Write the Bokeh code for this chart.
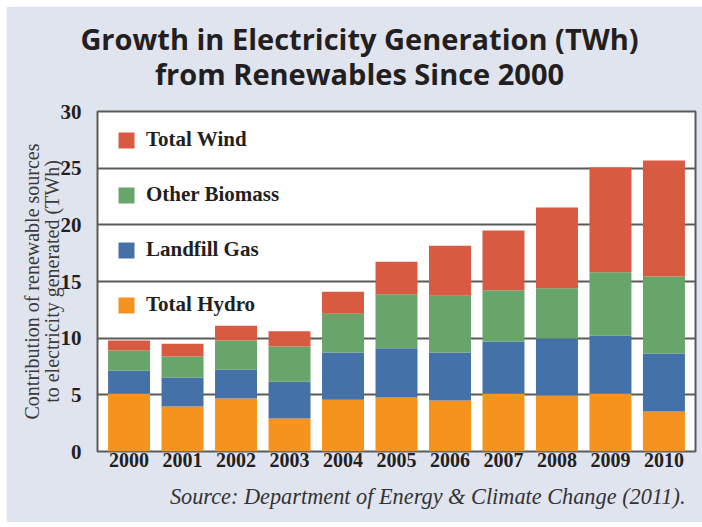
from bokeh.plotting import figure
from bokeh.models import (Range1d, ColumnDataSource, Legend, LegendItem,
                          Title, FixedTicker, LinearAxis)
from bokeh.embed import file_html
from bokeh.resources import INLINE

# ---- data ----
years = ["2000", "2001", "2002", "2003", "2004", "2005", "2006", "2007", "2008", "2009", "2010"]
hydro = [5.09, 3.97, 4.68, 2.91, 4.56, 4.77, 4.50, 5.09, 4.95, 5.09, 3.53]
landfill = [2.03, 2.57, 2.56, 3.24, 4.18, 4.33, 4.24, 4.62, 5.03, 5.12, 5.12]
biomass = [1.80, 1.85, 2.56, 3.12, 3.42, 4.77, 5.01, 4.51, 4.42, 5.60, 6.80]
wind = [0.88, 1.12, 1.30, 1.33, 1.94, 2.88, 4.41, 5.27, 7.12, 9.24, 10.22]
series_names = ["Total Hydro", "Landfill Gas", "Other Biomass", "Total Wind"]
y_ticks = [0, 5, 10, 15, 20, 25, 30]

title_text = "Growth in Electricity Generation (TWh)\nfrom Renewables Since 2000"
y_label = "Contribution of renewable sources\nto electricity generated (TWh)"
source_note = "Source: Department of Energy & Climate Change (2011)."

# ---- styles ----
BG = "#e0e4ef"
COLORS = ["#f6921e", "#4471a8", "#67a56a", "#d85a41"]
DARK = "#231f20"
GRID = "#5a5a5a"
SERIF = "Liberation Serif"
FRAME_W = 598          # frame width in px (used for the title positioning range)
TITLE_X = 262          # title centre, px from frame left
PAD = 0.59             # category padding at each end

xs = list(range(len(years)))
source = ColumnDataSource(data=dict(x=xs, year=years, hydro=hydro, landfill=landfill,
                                    biomass=biomass, wind=wind))

p = figure(x_range=Range1d(-PAD, len(years) - 1 + PAD),
           y_range=Range1d(0, 30), width=696, height=516,
           output_backend="svg", toolbar_location=None,
           min_border_left=91, min_border_right=7, min_border_top=105, min_border_bottom=71,
           background_fill_color="white", border_fill_color=BG)
p.margin = (6, 0, 0, 6)

rs = p.vbar_stack(["hydro", "landfill", "biomass", "wind"], x="x", width=0.785,
                  color=COLORS, line_color=None, source=source)

# axes
p.outline_line_color = GRID
p.outline_line_width = 2
p.xgrid.grid_line_color = None
p.ygrid.grid_line_color = GRID
p.ygrid.grid_line_width = 2
p.yaxis.ticker = FixedTicker(ticks=y_ticks)
p.xaxis.ticker = FixedTicker(ticks=xs)
p.xaxis.major_label_overrides = {i: yr for i, yr in zip(xs, years)}
for ax in (p.xaxis, p.yaxis):
    ax.axis_line_color = None
    ax.major_tick_line_color = None
    ax.minor_tick_line_color = None
    ax.major_label_text_font = SERIF
    ax.major_label_text_font_style = "bold"
    ax.major_label_text_color = DARK
p.yaxis.major_label_text_font_size = "21px"
p.xaxis.major_label_text_font_size = "20px"
p.yaxis.major_label_standoff = 10
p.xaxis.major_label_standoff = -5
p.yaxis.axis_label = y_label
p.yaxis.axis_label_text_font = SERIF
p.yaxis.axis_label_text_font_style = "normal"
p.yaxis.axis_label_text_font_size = "20px"
p.yaxis.axis_label_text_line_height = 0.9
p.yaxis.axis_label_text_color = "#3a3a3a"
p.yaxis.axis_label_standoff = -5

# two-line centred title, drawn as the single label of a bare axis above the plot
p.extra_x_ranges = {"title": Range1d(0, FRAME_W)}
tax = LinearAxis(x_range_name="title", ticker=FixedTicker(ticks=[TITLE_X]),
                 major_label_overrides={TITLE_X: title_text},
                 axis_line_color=None, major_tick_line_color=None, minor_tick_line_color=None,
                 major_label_text_font="Open Sans", major_label_text_font_style="bold",
                 major_label_text_font_size="29px", major_label_text_color=DARK,
                 major_label_text_line_height=0.875, major_label_standoff=13)
p.add_layout(tax, "above")

# legend (top to bottom: wind, biomass, landfill, hydro)
items = [LegendItem(label=series_names[i], renderers=[rs[i]]) for i in (3, 2, 1, 0)]
legend = Legend(items=items, location=(19, 134), padding=0, margin=0,
                glyph_width=20, glyph_height=20, label_height=20, spacing=30,
                label_standoff=10, label_text_font=SERIF, label_text_font_style="bold",
                label_text_font_size="21px", label_text_color=DARK,
                border_line_color=None, background_fill_alpha=0)
p.add_layout(legend)

# source note
p.add_layout(Title(text=source_note, align="right", offset=10, standoff=25,
                   text_font=SERIF, text_font_style="italic",
                   text_font_size="22.3px", text_color="#333333"), "below")

open("out.html", "w").write(file_html(p, INLINE))
